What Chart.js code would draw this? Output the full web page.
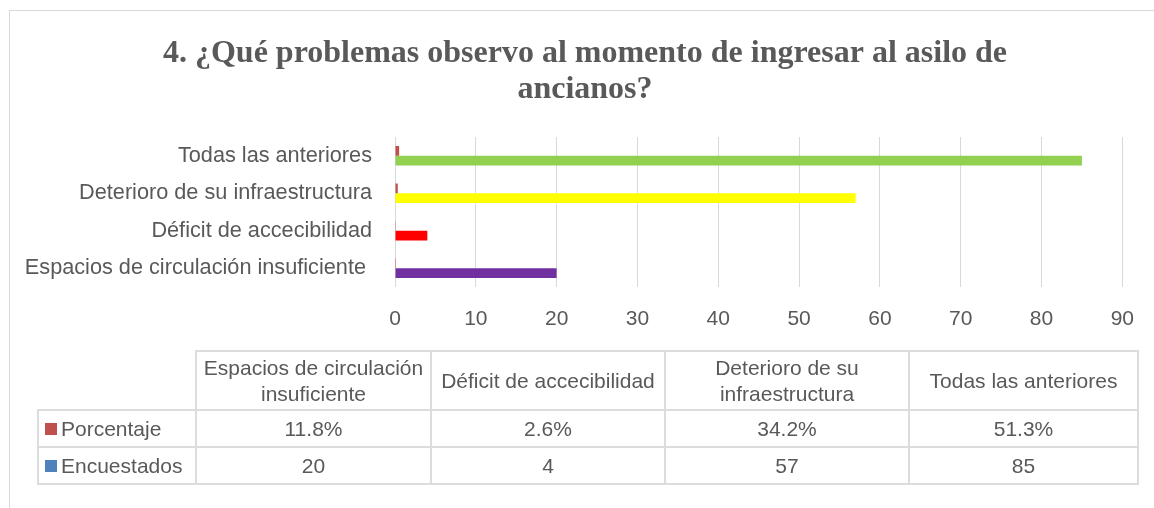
<!DOCTYPE html>
<html>
<head>
<meta charset="utf-8">
<script src="https://cdn.jsdelivr.net/npm/chart.js@4"></script>
<style>
  html, body { margin: 0; padding: 0; background: #fff; }
  #wrap { position: relative; width: 1154px; height: 508px; overflow: hidden; }
  #frame { position: absolute; left: 9px; top: 10px; width: 1200px; height: 600px;
           border-left: 1px solid #d9d9d9; border-top: 1px solid #d9d9d9; }
  canvas { position: absolute; left: 0; top: 0; }
  #dataTable { position: absolute; left: 37px; top: 350px; border-collapse: collapse; table-layout: fixed;
               font-family: 'Liberation Sans', Arial, sans-serif; font-size: 21px; color: #595959; }
  #dataTable td { border: 2px solid #dcdcdc; text-align: center; padding: 0; line-height: 26px; }
  #dataTable tr.head td { height: 57px; }
  #dataTable tr.row td { height: 35px; }
  #dataTable td.blank { border: none; }
  #dataTable td.key { text-align: left; padding-left: 6px; white-space: nowrap; }
  .sw { display: inline-block; width: 12px; height: 12px; margin-right: 4px; vertical-align: 1px; }
</style>
</head>
<body>
<div id="wrap">
  <div id="frame"></div>
  <canvas id="barChart" width="1154" height="508"></canvas>
  <table id="dataTable"></table>
</div>
<script>
// datos del gráfico
var categories = ['Espacios de circulación insuficiente', 'Déficit de accecibilidad', 'Deterioro de su infraestructura', 'Todas las anteriores'];
var encuestados = [20, 4, 57, 85];
var porcentaje = [0.118, 0.026, 0.342, 0.513];
var porcentajeText = ['11.8%', '2.6%', '34.2%', '51.3%'];
var barColors = ['#7030A0', '#FF0000', '#FFFF00', '#92D050'];
var xTicks = [0, 10, 20, 30, 40, 50, 60, 70, 80, 90];
var colWidths = [158, 235, 234, 244, 229];

var grey = '#595959';
var font = "'Liberation Sans', Arial, sans-serif";

// ─── tabla de datos ───
function buildTable() {
  var t = document.getElementById('dataTable');
  var html = '<colgroup>' + colWidths.map(w => `<col style="width:${w}px">`).join('') + '</colgroup>';
  html += '<tr class="head"><td class="blank"></td>' + categories.map(c => `<td>${c}</td>`).join('') + '</tr>';
  html += '<tr class="row"><td class="key"><span class="sw" style="background:#C0504D"></span>Porcentaje</td>' +
          porcentajeText.map(v => `<td>${v}</td>`).join('') + '</tr>';
  html += '<tr class="row"><td class="key"><span class="sw" style="background:#4F81BD"></span>Encuestados</td>' +
          encuestados.map(v => `<td>${v}</td>`).join('') + '</tr>';
  t.innerHTML = html;
}
buildTable();

// el título se centra sobre todo el marco, no sobre el área de trazado
var titleShift = {
  id: 'titleShift',
  afterLayout(chart) {
    var tb = chart.titleBlock;
    if (tb) { tb.left = 16; tb.right = 1154; tb.width = 1138; }
  }
};

// ─── gráfico de barras ───
new Chart(document.getElementById('barChart'), {
  type: 'bar',
  data: {
    labels: categories.map((c, i) => i === 0 ? c + ' ' : c),
    datasets: [
      { label: 'Porcentaje', data: porcentaje, backgroundColor: '#C0504D', categoryPercentage: 0.52, barPercentage: 1 },
      { label: 'Encuestados', data: encuestados, backgroundColor: barColors, categoryPercentage: 0.52, barPercentage: 1 }
    ]
  },
  plugins: [titleShift],
  options: {
    indexAxis: 'y',
    responsive: false,
    animation: false,
    layout: { padding: { left: 0, right: 27, top: 0, bottom: 176 } },
    plugins: {
      legend: { display: false },
      tooltip: { enabled: false },
      title: {
        display: true,
        text: ['4. ¿Qué problemas observo al momento de ingresar al asilo de', 'ancianos?'],
        color: grey,
        font: { family: "'Liberation Serif', 'Times New Roman', serif", size: 32, weight: 'bold', lineHeight: 1.125 },
        padding: { top: 36, bottom: 29 }
      }
    },
    scales: {
      x: {
        min: 0, max: 90,
        afterBuildTicks: s => { s.ticks = xTicks.map(v => ({ value: v })); },
        afterFit: s => { s.height = 45; },
        grid: { color: '#d9d9d9', drawTicks: false },
        border: { display: false },
        ticks: { color: grey, font: { family: font, size: 21 }, padding: 20 }
      },
      y: {
        reverse: true,
        afterFit: s => { s.width = 395; },
        grid: { display: false, drawTicks: false },
        border: { display: false },
        ticks: { color: grey, font: { family: font, size: 21.7 }, padding: 23 }
      }
    }
  }
});
</script>
</body>
</html>
